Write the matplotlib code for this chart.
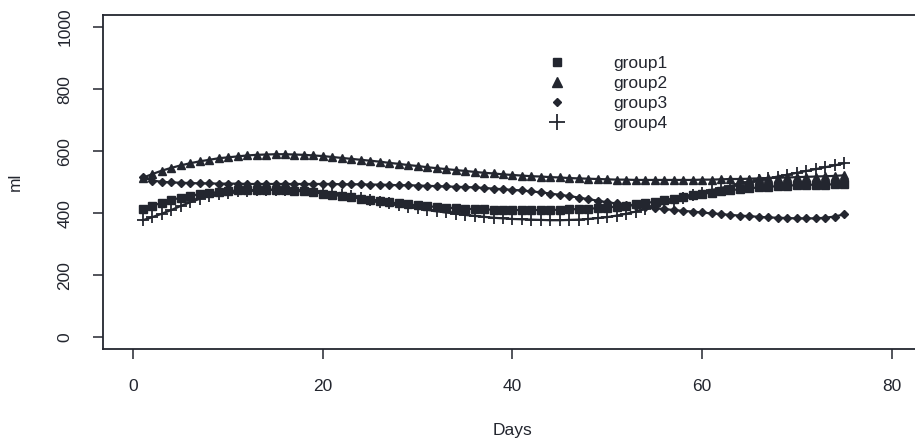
import numpy as np
import matplotlib.pyplot as plt
from matplotlib.lines import Line2D

plt.rcParams['font.family'] = ['Liberation Sans', 'DejaVu Sans']

# days with one reading each
days = list(range(1, 76))

group1 = [412, 424, 433, 442, 450, 456, 461, 465, 468, 471,
          473, 474, 475, 475, 475, 474, 472, 470, 467, 463,
          459, 455, 451, 447, 443, 439, 435, 431, 428, 425,
          422, 420, 418, 416, 414, 413, 412, 411, 410, 410,
          410, 410, 410, 410, 411, 412, 413, 414, 416, 418,
          421, 424, 428, 432, 437, 442, 447, 452, 457, 462,
          466, 470, 474, 477, 480, 483, 485, 487, 489, 490,
          491, 492, 492, 493, 493]

group2 = [514, 526, 537, 546, 554, 561, 567, 572, 577, 580,
          583, 586, 588, 589, 590, 590, 589, 588, 586, 584,
          581, 578, 575, 572, 569, 566, 562, 559, 555, 552,
          548, 545, 542, 539, 536, 533, 530, 528, 525, 523,
          521, 519, 518, 516, 515, 513, 512, 511, 510, 509,
          508, 508, 507, 507, 507, 507, 507, 507, 507, 508,
          508, 509, 510, 510, 511, 512, 513, 514, 515, 516,
          517, 518, 519, 520, 522]

group3 = [515, 505, 501, 499, 498, 497, 496, 496, 495, 495,
          495, 494, 494, 494, 494, 494, 494, 494, 494, 494,
          494, 493, 493, 493, 492, 492, 491, 490, 490, 489,
          488, 487, 486, 485, 484, 483, 481, 479, 477, 475,
          473, 470, 467, 463, 459, 455, 450, 445, 440, 435,
          431, 427, 423, 419, 416, 413, 410, 407, 405, 402,
          399, 397, 394, 392, 390, 388, 386, 385, 384, 383,
          383, 383, 385, 389, 396]

group4 = [377, 387, 398, 410, 423, 435, 446, 455, 461, 466,
          470, 472, 474, 475, 476, 476, 475, 474, 471, 468,
          464, 459, 454, 449, 443, 437, 432, 426, 421, 416,
          411, 406, 402, 398, 394, 391, 388, 385, 383, 381,
          380, 379, 378, 377, 377, 378, 379, 381, 384, 387,
          392, 398, 405, 413, 422, 431, 440, 449, 458, 466,
          474, 481, 488, 494, 500, 506, 512, 518, 524, 530,
          536, 542, 548, 554, 561]

names = ['group1', 'group2', 'group3', 'group4']
ink = '#23262f'

fig = plt.figure(figsize=(9.15, 4.48), dpi=100)
ax = fig.add_axes([0.1126, 0.22, 0.895, 0.747])

ax.plot(days, group1, color=ink, lw=1.6, marker='s', ms=5.5)
ax.plot(days, group2, color=ink, lw=1.6, marker='^', ms=6)
ax.plot(days, group3, color=ink, lw=1.6, marker='D', ms=4)
ax.plot(days, group4, color=ink, lw=1.6, marker='+', ms=9, mew=1.3)

ax.set_xlim(-3.2, 83.2)
ax.set_ylim(-40, 1040)
ax.set_xticks([0, 20, 40, 60, 80])
ax.set_yticks([0, 200, 400, 600, 800, 1000])
ax.tick_params(direction='out', length=7, width=1.1, colors=ink, labelsize=12.5, pad=14)
ax.tick_params(axis='y', pad=15)
for lab in ax.get_yticklabels():
    lab.set_rotation(90)
    lab.set_va('center')
for s in ax.spines.values():
    s.set_color(ink)
    s.set_linewidth(1.3)
ax.spines['right'].set_visible(False)

ax.set_xlabel('Days', fontsize=12.5, labelpad=21, color=ink)
ax.set_ylabel('ml', fontsize=12.5, labelpad=25, color=ink)

handles = [Line2D([], [], color=ink, ls='none', marker='s', ms=5.5),
           Line2D([], [], color=ink, ls='none', marker='^', ms=6.5),
           Line2D([], [], color=ink, ls='none', marker='D', ms=4.5),
           Line2D([], [], color=ink, ls='none', marker='+', ms=11, mew=1.3)]
ax.legend(handles, names, loc='upper left', bbox_to_anchor=(0.525, 0.923),
          frameon=False, fontsize=12.5, handlelength=1, handletextpad=2.7,
          labelspacing=0.28, labelcolor=ink)

fig.savefig('out.png', dpi=100)
